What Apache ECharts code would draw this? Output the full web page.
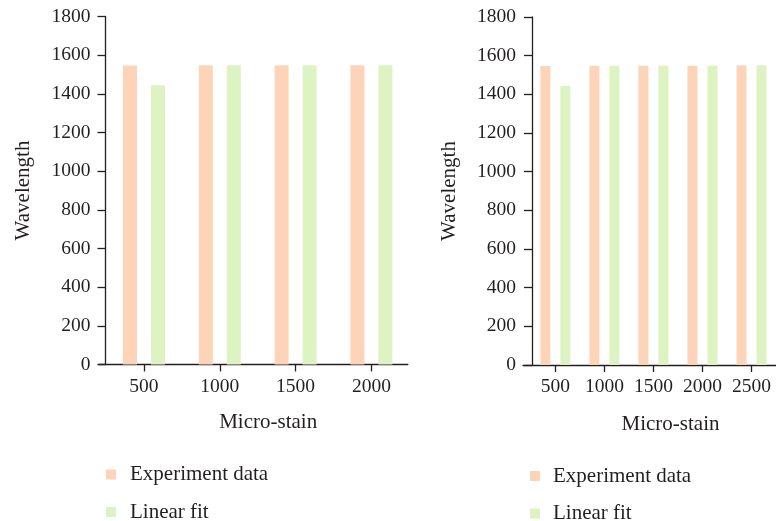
<!DOCTYPE html>
<html>
<head>
<meta charset="utf-8">
<script src="https://cdn.jsdelivr.net/npm/echarts@6/dist/echarts.min.js"></script>
<style>
  html, body { margin: 0; padding: 0; background: #fff; }
  #chart { width: 776px; height: 521px; }
</style>
</head>
<body>
<div id="chart"></div>
<script>
// Micro-strain positions and measured / fitted wavelengths, two panels
var strainA = [500, 1000, 1500, 2000];
var experimentA = [1547, 1548, 1548, 1548];
var fitA = [1445, 1548, 1548, 1548];

var strainB = [500, 1000, 1500, 2000, 2500];
var experimentB = [1547, 1548, 1548, 1548, 1550];
var fitB = [1445, 1548, 1548, 1548, 1550];

var xTicksA = [500, 1000, 1500, 2000];
var xTicksB = [500, 1000, 1500, 2000, 2500];

var seriesNames = ['Experiment data', 'Linear fit'];
var colors = ['#fdd4b8', '#def3c2'];

var ink = '#231f20';
var serif = '"Liberation Serif", "Times New Roman", serif';

function plain(v) { return String(v); }

function pairs(xs, ys) {
  return xs.map(function (x, i) { return [x, ys[i]]; });
}

function xAxis(idx, min, max, ticks, namePad, nameGap) {
  return {
    type: 'value', gridIndex: idx, min: min, max: max,
    name: 'Micro-stain', nameLocation: 'middle', nameGap: nameGap,
    nameTextStyle: { fontFamily: serif, fontSize: 21, color: ink, padding: namePad },
    axisLine: { show: true, lineStyle: { color: ink, width: 1.3 } },
    axisTick: { show: true, length: 7, customValues: ticks, lineStyle: { color: ink, width: 1.3 } },
    axisLabel: { customValues: ticks, formatter: plain, fontFamily: serif, fontSize: 19.5, color: ink, margin: 12 },
    splitLine: { show: false }
  };
}

function yAxis(idx, offset, labelMargin) {
  return {
    type: 'value', gridIndex: idx, min: 0, max: 1800, interval: 200, offset: offset,
    name: 'Wavelength', nameLocation: 'middle', nameGap: 72,
    nameTextStyle: { fontFamily: serif, fontSize: 21, color: ink },
    axisLine: { show: true, lineStyle: { color: ink, width: 1.3 } },
    axisTick: { show: true, length: 8, lineStyle: { color: ink, width: 1.3 } },
    axisLabel: { formatter: plain, fontFamily: serif, fontSize: 19.5, color: ink, margin: labelMargin },
    splitLine: { show: false }
  };
}

function bars(name, color, axisIdx, data, width) {
  return {
    type: 'bar', name: name, xAxisIndex: axisIdx, yAxisIndex: axisIdx,
    data: data, barWidth: width, barGap: '100%',
    itemStyle: { color: color }, silent: true
  };
}

// one legend entry per box, stacked under each panel
function legendItem(name, left, top, pad) {
  return {
    left: left, top: top, padding: 0,
    itemWidth: 10, itemHeight: 10, icon: 'rect',
    data: [name],
    textStyle: { fontFamily: serif, fontSize: 21, lineHeight: 14, color: ink, padding: [0, 0, 0, pad] }
  };
}

var chart = echarts.init(document.getElementById('chart'), null, { renderer: 'canvas' });
chart.setOption({
  animation: false,
  color: colors,
  grid: [
    { left: 98.5, top: 16.5, width: 309.3, height: 348 },
    { left: 523, top: 17, width: 262.3, height: 348 }
  ],
  xAxis: [
    xAxis(0, 200, 2240, xTicksA, [0, 0, 0, 30], 47),
    xAxis(1, 170, 2750, xTicksB, [0, 0, 0, 42], 49)
  ],
  yAxis: [
    yAxis(0, -7, 15),
    yAxis(1, -9, 16)
  ],
  legend: [
    legendItem(seriesNames[0], 106, 464, 9),
    legendItem(seriesNames[1], 106, 501.5, 9),
    legendItem(seriesNames[0], 530, 465.5, 8),
    legendItem(seriesNames[1], 530, 503, 8)
  ],
  series: [
    bars(seriesNames[0], colors[0], 0, pairs(strainA, experimentA), 14),
    bars(seriesNames[1], colors[1], 0, pairs(strainA, fitA), 14),
    bars(seriesNames[0], colors[0], 1, pairs(strainB, experimentB), 10),
    bars(seriesNames[1], colors[1], 1, pairs(strainB, fitB), 10)
  ]
});
</script>
</body>
</html>
